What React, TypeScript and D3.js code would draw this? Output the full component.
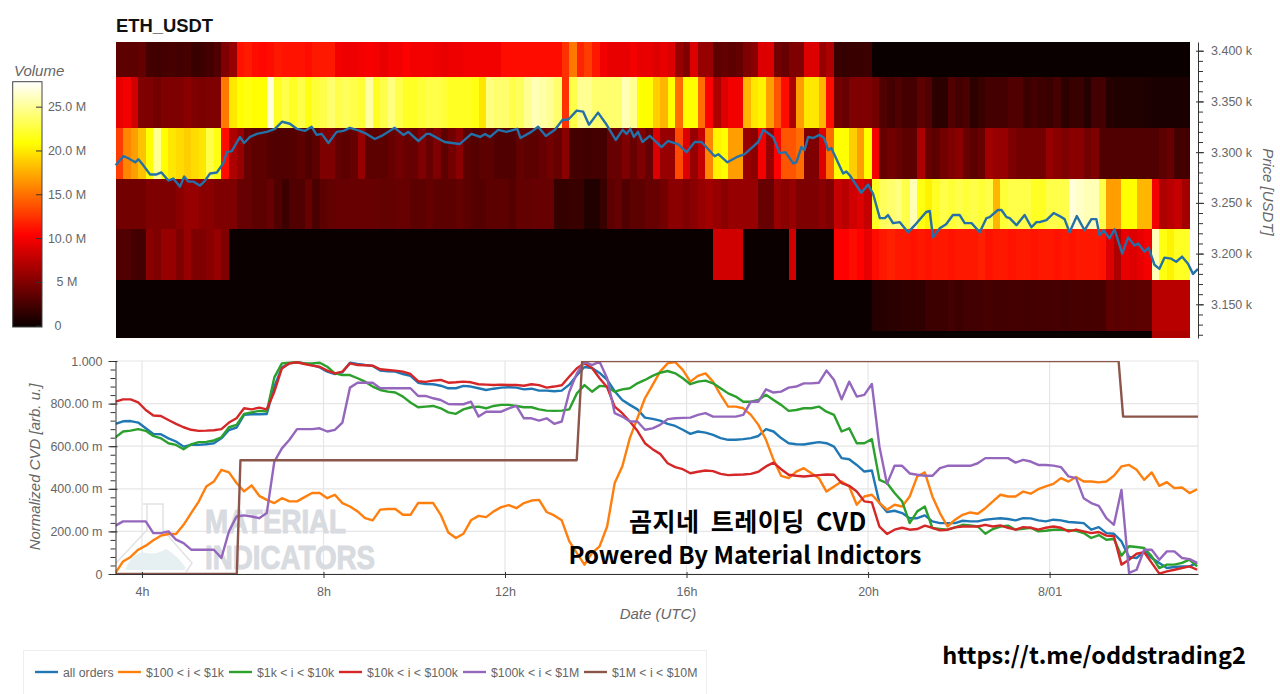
// ETH_USDT volume heatmap with price line, and normalized CVD per order size below
import { useEffect, useRef } from 'react';
import * as d3 from 'd3';

// lower edge of each price bin, top row first
const priceBins = [3374, 3324, 3274, 3224, 3174, 3124, 3074];

// volume in millions per 10 minute column, one array per price bin
const vol3400 = [
  3.5,3.5,3.5,3.8,2.5,2.3,2.5,2.6,2.4,2.6,
  2.0,2.2,2.5,3.0,5,6,11.3,11.6,11,10.8,
  11,11.5,11.3,11.3,11.3,11,11.5,11.5,11.5,10,
  9.8,9.8,10,10.2,10,9.5,10,10,10.5,10,
  10,10,9.8,9.5,9.8,9.8,10,10,10,10,
  10,11,11,11,11,11,11,11,11,12.5,
  15.5,12,13,11.5,10,9.5,9.5,9.5,10,9.5,
  9.5,9,9.5,9,6,5,9,6,6,3.5,
  3.8,3.5,3.8,5,5.5,9,9,4.5,4,5,
  5,9,9,6,7,2,1.8,2,2,2.2,
  0,0,0,0,0,0,0,0,0,0,
  0,0,0,0,0,0,0,0,0,0,
  0,0,0,0,0,0,0,0,0,0,
  0,0,0,0,0,0,0,0,0,0,0,0];
const vol3350 = [
  9.5,10,8.5,5,5,4.5,5,5,5,5.5,
  5,4.8,5,5,15.5,20,21,21.5,21,21,
  27,22,23,22,23,21.5,22.5,23,24,23,
  23.5,23,22.5,25.5,22,23,24.5,23,22,22,
  22.5,23,23,22.5,22,22,22,21.5,20,24.5,
  24,24,23,23.5,25,26,25.5,25,24,12.5,
  23,25,25,24,24,24,24,26,25,21,
  21,19,18,21,15,21,21,15,10.5,7,
  9,10,10,18,20,20.5,17,14,11,7,
  17,20,20,18,11,4.5,4,5,5,5,
  4.5,3,2.5,3,2.5,2.5,3.5,3,1.5,1.5,
  3,2.5,2.8,1.5,2,2.5,2.5,2.5,3,3,
  2.2,2.5,2.2,2,2.6,1.5,2,2,1.2,2.5,
  2.5,1.2,1,1,1,1,0.8,0.7,0.7,0.7,0.7,0.7];
const vol3300 = [
  13,16,17,18.5,21,25,21,20,19.5,19,
  19.5,20,23,21.5,11,7,6,4,3.5,3.5,
  3.2,3,3,3.2,3.5,3,3.5,5,5,3.8,
  3.5,4,6,3.5,3.5,3.5,4,4.5,4,4,
  5,4,5,3.5,4.5,5.5,3.5,3.2,3.5,3.5,
  3,3,3,3.8,3.5,3.5,4,4.5,4,5.5,
  2.5,2.5,2.3,2.5,2.5,4,4,5,4,5,
  4,9,6,6,13.5,9,6,8,16,20.5,
  21,17,17,6,5.5,10,6,10.5,14,14,
  15,5,5,9,15,21,21,19,17,21,
  10,4,4.5,4,3.5,3.5,7,4,3.5,4.5,
  5,5.5,4,3.5,4,6.5,6,6,5,4.5,
  4.5,4.5,4.5,6,5.5,5,5.5,5.5,4.5,5,
  3,3,3,3,3,3,3,3,3.5,4,2.5,2.5];
const vol3250 = [
  4.5,4.5,4.5,4.5,5,5,5,5,5.5,6,
  6,5.5,5.5,5,5,5,4,4,3.5,3.5,
  4,3,2.2,3,3,4,2.8,3.5,3.8,4,
  4,4,4,4,4,3.8,3.8,4,4,3.5,
  3.5,3.8,3.5,3.5,3.5,3.8,3.5,3.2,3.2,3.5,
  3.5,3.5,3.2,3.8,3.8,4,4,4,1.8,1.8,
  2,2,1,1,2,3.5,4,3,3.5,3.5,
  4,4,4.5,5.5,5.5,5,5.5,6,6.5,6,
  5.5,6,6,6,6,4,4,6,5.5,6,
  5,5,5,5.5,5,8,7.5,8.5,9,8,
  22,23.5,24,24.5,23,26,21.5,20.5,22,23,
  22.5,23,22.5,23,22.5,23,18,22.5,23,23,
  23,22,22,23,23,23,27,26.5,26,26,
  23,17,17,21,21,18,18,10,7,7.5,8,6.5];
const vol3200 = [
  3,3,2.5,2.5,5.5,5,6,6,5,6,
  5,5,5.5,6,5,0,0,0,0,0,
  0,0,0,0,0,0,0,0,0,0,
  0,0,0,0,0,0,0,0,0,0,
  0,0,0,0,0,0,0,0,0,0,
  0,0,0,0,0,0,0,0,0,0,
  0,0,0,0,0,0,0,0,0,0,
  0,0,0,0,0,0,0,0,0,8.5,
  8.5,8.5,8.5,0,0,0,0,0,0,8.5,
  0,0,0,0,0,10.5,10.5,11,10.5,9.5,
  11,11.5,11.8,11.5,11.5,11.3,11.5,11.3,11.5,11.5,
  11.3,11.5,11.5,11.5,11.8,11.3,11.5,11.5,11.3,11.5,
  11.5,11.3,11.5,11.5,11.3,11.5,11.3,11.5,11.5,11.5,
  11.3,9,7,9.5,9,9.5,10,26,21.5,20.5,22,22];
const vol3150 = [
  0,0,0,0,0,0,0,0,0,0,
  0,0,0,0,0,0,0,0,0,0,
  0,0,0,0,0,0,0,0,0,0,
  0,0,0,0,0,0,0,0,0,0,
  0,0,0,0,0,0,0,0,0,0,
  0,0,0,0,0,0,0,0,0,0,
  0,0,0,0,0,0,0,0,0,0,
  0,0,0,0,0,0,0,0,0,0,
  0,0,0,0,0,0,0,0,0,0,
  0,0,0,0,0,0,0,0,0,0,
  1.2,1.2,1.4,1.4,1.6,1.6,1.6,2.2,2.2,2.2,
  2.4,2.2,2.4,2.4,2.4,2.6,2.4,2.4,2.5,2.5,
  2.4,2.5,2.5,2.5,2.6,2.4,2.6,2.6,2.5,2.6,
  2.6,3.5,3.4,3.5,3.4,3.5,3.5,7.5,7.5,7.5,7.5,7.5];
const vol3100 = [
  0,0,0,0,0,0,0,0,0,0,
  0,0,0,0,0,0,0,0,0,0,
  0,0,0,0,0,0,0,0,0,0,
  0,0,0,0,0,0,0,0,0,0,
  0,0,0,0,0,0,0,0,0,0,
  0,0,0,0,0,0,0,0,0,0,
  0,0,0,0,0,0,0,0,0,0,
  0,0,0,0,0,0,0,0,0,0,
  0,0,0,0,0,0,0,0,0,0,
  0,0,0,0,0,0,0,0,0,0,
  0,0,0,0,0,0,0,0,0,0,
  0,0,0,0,0,0,0,0,0,0,
  0,0,0,0,0,0,0,0,0,0,
  0,0,0,0,0,0,0,7,7,7,7,7];

// price line, hours since 7/31 00:00 and USDT
const priceHours = [
  3.42,3.59,3.70,3.85,3.92,4.03,4.18,4.32,4.43,4.58,4.69,4.84,4.93,5.02,5.13,5.28,5.39,5.50,5.65,5.79,
  5.87,5.98,6.16,6.25,6.38,6.53,6.75,6.93,7.09,7.26,7.41,7.59,7.74,7.85,7.96,8.11,8.29,8.44,8.58,8.80,
  8.95,9.13,9.28,9.57,9.76,9.87,10.09,10.27,10.34,10.67,11.00,11.26,11.45,11.56,11.67,11.85,12.03,12.27,12.34,12.58,
  12.73,12.90,13.10,13.27,13.39,13.58,13.72,13.85,14.05,14.24,14.44,14.59,14.68,14.76,14.84,14.93,15.03,15.19,15.45,15.59,
  15.81,16.00,16.18,16.33,16.62,16.70,16.90,17.10,17.28,17.58,17.69,17.91,18.05,18.18,18.35,18.42,18.53,18.60,18.68,18.79,
  18.93,19.03,19.12,19.19,19.45,19.52,19.60,19.85,20.00,20.11,20.26,20.37,20.44,20.55,20.70,20.88,21.03,21.28,21.36,21.43,
  21.58,21.72,21.87,22.02,22.13,22.28,22.46,22.61,22.68,22.86,22.94,23.05,23.12,23.27,23.45,23.60,23.71,23.78,23.93,24.09,
  24.22,24.33,24.44,24.60,24.77,24.92,25.03,25.10,25.19,25.32,25.43,25.60,25.73,25.87,25.95,26.09,26.18,26.31,26.42,26.53,
  26.68,26.79,26.92,27.05,27.16,27.27];
const priceValues = [
  3287,3296,3294,3290,3293,3287,3278,3278,3280,3272,3274,3266,3276,3271,3271,3267,3272,3279,3280,3289,
  3300,3301,3315,3309,3315,3318,3320,3323,3330,3328,3323,3321,3325,3317,3318,3309,3320,3321,3324,3321,
  3318,3313,3316,3324,3317,3320,3311,3318,3318,3310,3308,3318,3315,3318,3315,3322,3320,3323,3314,3320,
  3325,3316,3322,3332,3332,3341,3340,3327,3339,3327,3312,3322,3318,3323,3315,3320,3310,3316,3305,3311,
  3308,3300,3310,3310,3296,3298,3290,3295,3298,3310,3322,3315,3299,3300,3289,3290,3305,3302,3315,3314,
  3317,3314,3302,3304,3279,3281,3277,3260,3268,3259,3235,3235,3238,3230,3231,3221,3228,3241,3242,3216,
  3225,3229,3238,3238,3230,3230,3221,3235,3236,3243,3243,3236,3235,3228,3238,3226,3231,3231,3233,3240,
  3237,3234,3221,3237,3223,3234,3234,3218,3223,3215,3224,3200,3216,3208,3210,3202,3206,3189,3185,3196,
  3195,3192,3197,3190,3180,3185];

// normalized CVD in milli units, one value per 10 minutes
const cvdAll = [
  705,717,718,711,684,658,656,637,622,598,606,606,609,614,637,676,687,747,750,750,
  751,880,970,989,994,989,981,970,950,939,947,992,986,981,977,955,952,950,939,930,
  898,892,891,884,872,872,883,880,872,864,870,875,877,875,867,870,861,861,858,861,
  889,933,972,967,944,912,858,817,794,773,734,728,720,705,695,677,658,669,664,653,
  638,630,630,633,638,648,680,669,638,614,609,608,614,619,614,598,544,539,512,481,
  486,333,291,297,286,262,262,275,247,239,239,239,250,247,247,255,259,262,258,252,
  262,261,252,247,255,252,244,242,239,208,220,192,189,153,80,75,106,75,52,28,
  33,36,36,52];
const cvd100 = [
  5,59,80,114,133,158,180,188,188,231,286,340,411,434,489,477,427,388,416,367,
  348,333,356,341,341,361,380,380,356,372,333,317,294,262,252,302,305,305,278,278,
  333,333,333,278,195,169,189,252,273,267,294,314,323,309,333,345,348,291,275,252,
  153,98,44,98,130,223,427,505,638,731,825,887,950,989,995,958,903,930,942,903,
  841,786,786,778,747,700,630,536,461,450,481,497,473,450,387,411,434,411,325,364,
  372,334,302,325,317,364,458,477,364,286,223,255,278,289,283,309,341,372,364,364,
  387,377,398,411,423,450,434,455,434,434,430,434,461,505,512,489,442,477,414,431,
  403,406,380,398];
const cvd1k = [
  642,669,673,680,672,648,637,614,606,586,609,619,620,627,642,689,700,752,759,766,
  763,923,989,992,994,989,989,992,973,942,934,934,919,903,880,864,856,852,833,805,
  783,786,789,778,759,752,773,783,786,778,789,794,794,789,783,783,773,767,766,767,
  773,848,887,856,883,880,856,867,872,895,911,930,945,953,942,919,891,903,908,895,
  872,848,833,809,809,817,841,817,794,766,770,778,778,786,762,747,669,684,614,614,
  633,442,427,380,341,239,294,317,216,212,208,219,231,228,223,189,211,223,227,208,
  212,217,200,203,208,208,206,203,192,169,183,161,164,86,130,127,122,83,28,44,
  44,52,67,36];
const cvd10k = [
  809,820,820,806,770,744,742,723,705,689,677,672,673,675,680,711,731,778,773,781,
  773,856,965,989,994,986,978,973,955,942,950,989,981,980,978,961,958,955,950,939,
  905,902,908,911,898,900,903,900,891,889,887,889,887,887,884,891,887,875,880,886,
  927,966,989,967,919,877,786,755,716,672,614,586,564,520,502,492,473,480,486,483,
  470,464,466,467,470,480,505,523,492,466,461,458,461,464,467,466,427,414,387,341,
  336,222,188,208,217,208,211,227,217,205,208,219,223,223,223,231,223,228,217,208,
  220,217,208,217,223,217,200,208,200,192,197,180,177,44,67,95,102,52,2,12,
  20,28,36,20];
const cvd100k = [
  227,247,247,247,247,192,192,200,161,145,114,114,114,114,75,200,270,275,270,262,
  286,528,590,630,680,680,680,684,669,677,711,875,898,898,898,872,872,872,872,872,
  836,836,825,817,798,797,797,809,739,762,762,762,778,789,731,731,720,731,705,716,
  856,942,997,981,997,919,755,739,716,716,677,684,700,727,731,733,734,747,755,739,
  739,739,739,747,809,809,867,852,856,875,880,895,895,898,955,911,820,903,833,841,
  892,598,423,508,508,472,466,461,461,497,508,508,508,508,520,544,544,544,544,523,
  536,528,512,512,509,502,458,450,356,333,320,262,231,395,5,20,114,114,67,106,
  106,75,70,52];

// this one only steps, so it keeps its own times
const cvd1mHours = [3.42, 6.09, 6.17, 13.58, 13.70, 25.52, 25.62, 27.27];
const cvd1mValues = [0, 0, 534, 534, 1000, 1000, 739, 739];

const legendLabels = ['all orders', '$100 < i < $1k', '$1k < i < $10k', '$10k < i < $100k', '$100k < i < $1M', '$1M < i < $10M'];
const legendX = [35, 118, 229, 339, 463, 584];
const lineColors = ['#1f77b4', '#ff7f0e', '#2ca02c', '#d62728', '#9467bd', '#8c564b'];

const hourTicks = [4, 8, 12, 16, 20, 24];
const hourLabels = ['4h', '8h', '12h', '16h', '20h', '8/01'];
const priceTicks = [3150, 3200, 3250, 3300, 3350, 3400];
const priceLabels = ['3.150 k', '3.200 k', '3.250 k', '3.300 k', '3.350 k', '3.400 k'];
const cvdTicks = [0, 200, 400, 600, 800, 1000];
const cvdLabels = ['0', '200.00 m', '400.00 m', '600.00 m', '800.00 m', '1.000'];
const volTicks = [0, 5, 10, 15, 20, 25];
const volLabels = ['0', '5 M', '10.0 M', '15.0 M', '20.0 M', '25.0 M'];

const FONT = '"Liberation Sans", Arial, sans-serif';
const TEXT = '#666';
const AXIS = '#333';

function App() {
  const ref = useRef<SVGSVGElement>(null);

  useEffect(() => {
    const svg = d3.select(ref.current);
    svg.selectAll('*').remove();
    svg.style('font-family', FONT);

    // scales
    const x = d3.scaleLinear().domain([3.417, 27.27]).range([115.5, 1198]);
    const yPrice = d3.scaleLinear().domain([3116.8, 3408.6]).range([338, 42]);
    const yCvd = d3.scaleLinear().domain([0, 1000]).range([574, 361]);
    const yVol = d3.scaleLinear().domain([-0.15, 27.85]).range([327, 81.7]);
    const hot = d3.scaleLinear<string>()
      .domain([0, 10.5, 21, 28])
      .range(['#0a0000', '#ff0000', '#ffff00', '#ffffff'])
      .clamp(true);

    const columnHour = (i: number) => 3.417 + i / 6;

    const defs = svg.append('defs');
    defs.append('clipPath').attr('id', 'cvd-clip').append('rect')
      .attr('x', 115.5).attr('y', 361).attr('width', 1082.5).attr('height', 213);
    defs.append('clipPath').attr('id', 'heat-clip').append('rect')
      .attr('x', 115.5).attr('y', 42).attr('width', 1082.5).attr('height', 296);

    // title
    svg.append('text').attr('x', 116).attr('y', 32)
      .attr('font-size', 18.4).attr('font-weight', 700).attr('fill', '#111').text('ETH_USDT');

    // heatmap cells
    const rows = [vol3400, vol3350, vol3300, vol3250, vol3200, vol3150, vol3100];
    const heat = svg.append('g').attr('clip-path', 'url(#heat-clip)').attr('shape-rendering', 'crispEdges');
    rows.forEach((row, r) => {
      heat.append('g').selectAll('rect').data(row).enter().append('rect')
        .attr('x', (_, i) => x(columnHour(i)))
        .attr('width', (_, i) => x(columnHour(i + 1)) - x(columnHour(i)) + 0.6)
        .attr('y', yPrice(priceBins[r] + 50))
        .attr('height', yPrice(priceBins[r]) - yPrice(priceBins[r] + 50) + 0.4)
        .attr('fill', d => hot(d));
    });

    // price line on top of the heatmap
    const priceLine = d3.line<number>()
      .x((_, i) => x(priceHours[i]))
      .y(d => yPrice(d));
    svg.append('path').datum(priceValues)
      .attr('d', priceLine)
      .attr('fill', 'none')
      .attr('stroke', '#2470a8')
      .attr('stroke-width', 2.4)
      .attr('stroke-linejoin', 'round');

    // price axis on the right
    const priceAxis = svg.append('g').attr('transform', 'translate(1198,0)');
    priceAxis.call(d3.axisRight(yPrice).tickValues(d3.range(3120, 3410, 10)).tickSize(5).tickFormat(() => '').tickSizeOuter(0));
    priceAxis.call(g => g.selectAll('.domain').attr('stroke', AXIS));
    priceAxis.call(g => g.selectAll('line').attr('stroke', AXIS));
    const priceMajor = svg.append('g').attr('transform', 'translate(1198,0)');
    priceMajor.call(d3.axisRight(yPrice).tickValues(priceTicks).tickSize(6).tickPadding(7)
      .tickFormat((_, i) => priceLabels[i]).tickSizeOuter(0));
    priceMajor.select('.domain').remove();
    priceMajor.selectAll('line').attr('stroke', AXIS).attr('x1', -2);
    priceMajor.selectAll('text').attr('font-size', 12.5).attr('fill', TEXT).attr('font-family', FONT);
    svg.append('text')
      .attr('transform', 'translate(1263,192) rotate(90)')
      .attr('text-anchor', 'middle').attr('font-size', 15).attr('font-style', 'italic')
      .attr('fill', TEXT).text('Price [USDT]');

    // colour bar
    const grad = defs.append('linearGradient').attr('id', 'vol-grad')
      .attr('x1', 0).attr('x2', 0).attr('y1', 1).attr('y2', 0);
    grad.selectAll('stop').data(d3.range(0, 28.5, 0.5)).enter().append('stop')
      .attr('offset', d => d / 28)
      .attr('stop-color', d => hot(d));
    svg.append('rect')
      .attr('x', 12.7).attr('y', yVol(27.85))
      .attr('width', 29.3).attr('height', yVol(-0.15) - yVol(27.85))
      .attr('fill', 'url(#vol-grad)').attr('stroke', '#444').attr('stroke-width', 1);
    const volAxis = svg.append('g').attr('transform', 'translate(42,0)');
    volAxis.call(d3.axisLeft(yVol).tickValues(volTicks).tickSize(6).tickFormat(() => '').tickSizeOuter(0));
    volAxis.select('.domain').remove();
    volAxis.selectAll('line').attr('stroke', '#333');
    svg.append('g').selectAll('text').data(volTicks).enter().append('text')
      .attr('x', d => (d === 0 ? 58 : 67))
      .attr('y', d => yVol(d) + 4.5)
      .attr('text-anchor', 'middle')
      .attr('font-size', 12.5).attr('fill', TEXT)
      .text((_, i) => volLabels[i]);
    svg.append('text').attr('x', 14).attr('y', 76)
      .attr('font-size', 15).attr('font-style', 'italic').attr('fill', TEXT).text('Volume');

    // CVD grid
    const grid = svg.append('g').attr('stroke', '#e6e6e6').attr('stroke-width', 1.2);
    grid.selectAll('.h').data(cvdTicks).enter().append('line')
      .attr('x1', 115.5).attr('x2', 1198).attr('y1', d => yCvd(d)).attr('y2', d => yCvd(d));
    grid.selectAll('.v').data(hourTicks).enter().append('line')
      .attr('y1', 361).attr('y2', 574).attr('x1', d => x(d)).attr('x2', d => x(d));
    grid.append('line').attr('x1', 1198).attr('x2', 1198).attr('y1', 361).attr('y2', 574);

    // watermark
    const mark = svg.append('g');
    mark.append('path')
      .attr('d', 'M125,570 Q130,556 142,552 Q155,556 166,549 Q178,556 186,568 L184,570 Z')
      .attr('fill', '#e6f0f2');
    mark.append('path')
      .attr('d', 'M143,504 H163 V530 L192,563 L186,572 M147,504 V530 L116,563')
      .attr('fill', 'none').attr('stroke', '#e0e2e4').attr('stroke-width', 1.5);
    mark.append('text').attr('x', 205).attr('y', 533)
      .attr('font-family', '"Liberation Sans Narrow", "Liberation Sans", sans-serif')
      .attr('font-size', 33).attr('font-weight', 700).attr('fill', '#d8dbdf')
      .attr('stroke', '#d8dbdf').attr('stroke-width', 1)
      .attr('textLength', 141).attr('lengthAdjust', 'spacingAndGlyphs').text('MATERIAL');
    mark.append('text').attr('x', 205).attr('y', 569)
      .attr('font-family', '"Liberation Sans Narrow", "Liberation Sans", sans-serif')
      .attr('font-size', 33).attr('font-weight', 700).attr('fill', '#d8dbdf')
      .attr('stroke', '#d8dbdf').attr('stroke-width', 1)
      .attr('textLength', 170).attr('lengthAdjust', 'spacingAndGlyphs').text('INDICATORS');

    // CVD lines
    const cvdLine = d3.line<number>()
      .x((_, i) => x(columnHour(i)))
      .y(d => yCvd(d));
    const stepLine = d3.line<number>()
      .x((_, i) => x(cvd1mHours[i]))
      .y(d => yCvd(d));
    const lines = svg.append('g').attr('clip-path', 'url(#cvd-clip)')
      .attr('fill', 'none').attr('stroke-width', 2.4).attr('stroke-linejoin', 'round');
    [cvdAll, cvd100, cvd1k, cvd10k, cvd100k].forEach((series, s) => {
      lines.append('path').datum(series).attr('d', cvdLine).attr('stroke', lineColors[s]);
    });
    lines.append('path').datum(cvd1mValues).attr('d', stepLine).attr('stroke', lineColors[5]);

    // CVD axes
    const cvdMinor = svg.append('g').attr('transform', 'translate(115.5,0)');
    cvdMinor.call(d3.axisLeft(yCvd).tickValues(d3.range(0, 1040, 40)).tickSize(5).tickFormat(() => '').tickSizeOuter(0));
    cvdMinor.selectAll('.domain, line').attr('stroke', AXIS);
    const cvdMajor = svg.append('g').attr('transform', 'translate(115.5,0)');
    cvdMajor.call(d3.axisLeft(yCvd).tickValues(cvdTicks).tickSize(7).tickPadding(6)
      .tickFormat((_, i) => cvdLabels[i]).tickSizeOuter(0));
    cvdMajor.select('.domain').remove();
    cvdMajor.selectAll('line').attr('stroke', AXIS).attr('x1', 2);
    cvdMajor.selectAll('text').attr('font-size', 12.5).attr('fill', TEXT).attr('font-family', FONT);
    const hourAxis = svg.append('g').attr('transform', 'translate(0,574)');
    hourAxis.call(d3.axisBottom(x).tickValues(hourTicks).tickSize(4).tickPadding(9)
      .tickFormat((_, i) => hourLabels[i]).tickSizeOuter(0));
    hourAxis.selectAll('.domain, line').attr('stroke', AXIS);
    hourAxis.selectAll('line').attr('y1', -2);
    hourAxis.selectAll('text').attr('font-size', 12.5).attr('fill', TEXT).attr('font-family', FONT);

    svg.append('text')
      .attr('transform', 'translate(40,467) rotate(-90)')
      .attr('text-anchor', 'middle').attr('font-size', 15).attr('font-style', 'italic')
      .attr('fill', TEXT).text('Normalized CVD [arb. u.]');
    svg.append('text').attr('x', 658).attr('y', 619)
      .attr('text-anchor', 'middle').attr('font-size', 15).attr('font-style', 'italic')
      .attr('fill', TEXT).text('Date (UTC)');

    // legend
    svg.append('rect').attr('x', 23.5).attr('y', 650.5).attr('width', 683).attr('height', 50)
      .attr('fill', '#fff').attr('stroke', '#eee');
    const legend = svg.append('g').selectAll('g').data(legendLabels).enter().append('g')
      .attr('transform', (_, i) => `translate(${legendX[i]},672)`);
    legend.append('line').attr('x1', 0).attr('x2', 23)
      .attr('stroke-width', 2.4).attr('stroke', (_, i) => lineColors[i]);
    legend.append('text').attr('x', 28).attr('y', 4.5)
      .attr('font-size', 12.3).attr('fill', TEXT).text(d => d);

    // pasted captions
    const KR = '"Noto Sans CJK KR", "Noto Sans", sans-serif';
    svg.append('text').attr('x', 748).attr('y', 531).attr('text-anchor', 'middle')
      .attr('font-family', KR).attr('font-weight', 700).attr('font-size', 25).attr('fill', '#000')
      .attr('letter-spacing', 0.5).attr('word-spacing', 5)
      .text('곰지네 트레이딩 CVD');
    svg.append('text').attr('x', 745).attr('y', 564).attr('text-anchor', 'middle')
      .attr('font-family', KR).attr('font-weight', 700).attr('font-size', 24).attr('fill', '#000')
      .text('Powered By Material Indictors');
    svg.append('text').attr('x', 1094).attr('y', 664).attr('text-anchor', 'middle')
      .attr('font-family', KR).attr('font-weight', 700).attr('font-size', 23.5).attr('fill', '#000')
      .text('https://t.me/oddstrading2');
  }, []);

  return (
    <svg
      ref={ref}
      width={1280}
      height={694}
      style={{ position: 'absolute', left: 0, top: 0, background: '#fff' }}
    />
  );
}

export default App;
